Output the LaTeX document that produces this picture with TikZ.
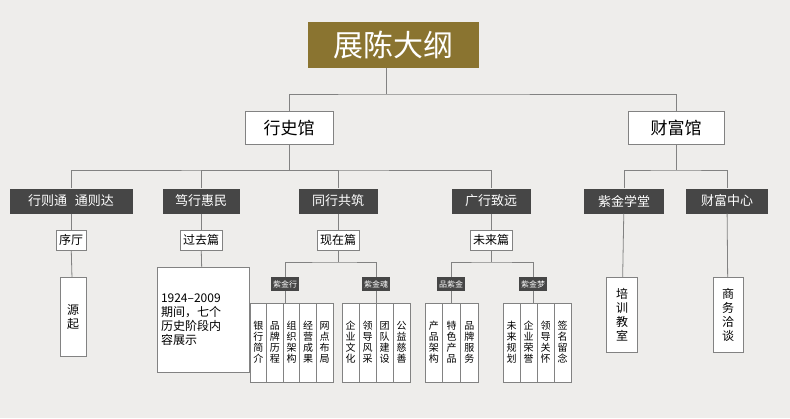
\documentclass[tikz,border=0pt]{standalone}
\usepackage{fontspec}
\setmainfont{Noto Sans CJK SC}
\usetikzlibrary{positioning}
\definecolor{bgc}{RGB}{238,237,235}
\definecolor{gold}{RGB}{138,116,48}
\definecolor{dk}{RGB}{70,70,70}
\definecolor{ln}{RGB}{130,130,130}
\tikzset{
  hall/.style={draw=ln,fill=white,line width=0.8pt,font=\fontsize{17}{17}\selectfont,minimum height=33pt,inner xsep=6pt},
  sect/.style={fill=dk,text=white,font=\fontsize{13}{13}\selectfont,minimum height=25pt,inner xsep=4pt},
  part/.style={draw=ln,fill=white,line width=0.8pt,font=\fontsize{12}{12}\selectfont,minimum height=20pt,inner xsep=3pt},
  tag/.style={fill=dk,text=white,font=\fontsize{8}{8}\selectfont,minimum height=13pt,inner xsep=2pt},
  col/.style={draw=ln,fill=white,line width=0.8pt,font=\fontsize{10}{11}\selectfont,align=center,inner sep=0pt},
  leaf/.style={draw=ln,fill=white,line width=0.8pt,font=\fontsize{12}{14}\selectfont,align=center,inner sep=0pt},
  link/.style={draw=ln,line width=0.8pt}
}
\begin{document}
\begin{tikzpicture}[x=1pt,y=-1pt]
\fill[bgc] (0,0) rectangle (790,418);

% title
\node[fill=gold,text=white,minimum width=171pt,minimum height=46pt,font=\fontsize{30}{30}\selectfont] (title) at (393,45) {展陈大纲};
\coordinate (hub) at (386,94);

% halls
\node[hall,minimum width=88pt] (hist) at (289,128) {行史馆};
\node[hall,minimum width=96pt] (fort) at (676,128) {财富馆};
\draw[link] (hub |- title.south) -- (hub) (hist.north) |- (hub) -| (fort.north);

% sections
\node[sect,minimum width=123pt] (s1) at (71,201) {行则通\hspace{0.6em}通则达};
\node[sect,minimum width=77pt] (s2) at (201,201) {笃行惠民};
\node[sect,minimum width=79pt] (s3) at (338,201) {同行共筑};
\node[sect,minimum width=79pt] (s4) at (491,201) {广行致远};
\node[sect,minimum width=80pt] (s5) at (624,201) {紫金学堂};
\node[sect,minimum width=82pt] (s6) at (727,201) {财富中心};
\draw[link] (hist.south) -- (289,170) (s1.north) |- (289,170) -| (s4.north);
\draw[link] (s2.north) |- (289,170) (s3.north) |- (289,170);
\draw[link] (fort.south) -- (676,170) (s5.north) |- (676,170) -| (s6.north);

% parts
\node[part] (p1) at (71,240) {序厅};
\node[part] (p2) at (201,240) {过去篇};
\node[part] (p3) at (338,240) {现在篇};
\node[part] (p4) at (491,240) {未来篇};
\draw[link] (s1) -- (p1) (s2) -- (p2) (s3) -- (p3) (s4) -- (p4);

% leaves
\node[leaf,minimum width=26pt,minimum height=79pt] (origin) at (73,317) {源\\起};
\node[leaf,minimum width=92pt,minimum height=105pt,align=left,inner xsep=4pt,text width=84pt] (past) at (203,320) {1924--2009\\期间，七个\\历史阶段内\\容展示};
\node[leaf,minimum width=31pt,minimum height=75pt] (train) at (622,315) {培\\训\\教\\室};
\node[leaf,minimum width=30pt,minimum height=75pt] (biz) at (728,315) {商\\务\\洽\\谈};
\draw[link] (p1) -- (origin) (p2) -- (past);
\draw[link] (s5) -- (train) (s6) -- (biz);

% tags
\node[tag] (t1) at (285,284) {紫金行};
\node[tag] (t2) at (376,284) {紫金魂};
\node[tag] (t3) at (451,284) {品紫金};
\node[tag] (t4) at (533,284) {紫金梦};
\draw[link] (p3.south) -- (338,262) (t1.north) |- (338,262) -| (t2.north);
\draw[link] (p4.south) -- (491,262) (t3.north) |- (491,262) -| (t4.north);

% columns
\foreach \t [count=\i] in {银\\行\\简\\介,品\\牌\\历\\程,组\\织\\架\\构,经\\营\\成\\果,网\\点\\布\\局}
  \node[col,minimum width=16.6pt,minimum height=79pt] (a\i) at ({250+16.6*(\i-0.5)},342.5) {\t};
\foreach \t [count=\i] in {企\\业\\文\\化,领\\导\\风\\采,团\\队\\建\\设,公\\益\\慈\\善}
  \node[col,minimum width=17pt,minimum height=79pt] (b\i) at ({342+17*(\i-0.5)},342.5) {\t};
\foreach \t [count=\i] in {产\\品\\架\\构,特\\色\\产\\品,品\\牌\\服\\务}
  \node[col,minimum width=17.7pt,minimum height=79pt] (c\i) at ({425+17.7*(\i-0.5)},342.5) {\t};
\foreach \t [count=\i] in {未\\来\\规\\划,企\\业\\荣\\誉,领\\导\\关\\怀,签\\名\\留\\念}
  \node[col,minimum width=17pt,minimum height=79pt] (d\i) at ({503+17*(\i-0.5)},342.5) {\t};
\draw[link] (t1.south) -- (t1.south |- a1.north) (t2.south) -- (t2.south |- b1.north);
\draw[link] (t3.south) -- (t3.south |- c1.north) (t4.south) -- (t4.south |- d1.north);
\end{tikzpicture}
\end{document}
